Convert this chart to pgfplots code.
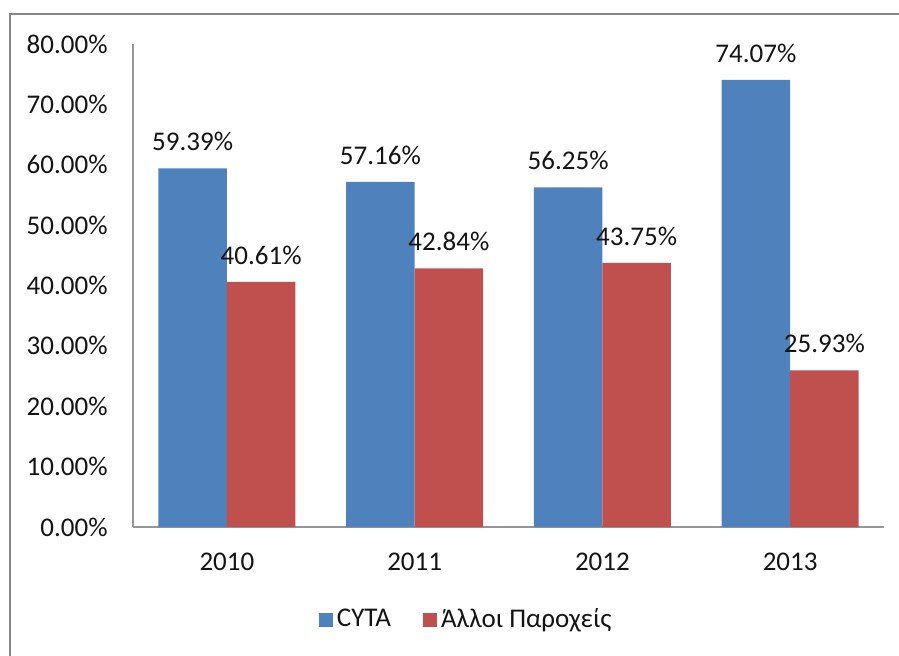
\documentclass[border=0pt]{standalone}
\usepackage{pgfplots}
\pgfplotsset{compat=1.18}
\usepackage{fontspec}
\setmainfont{Carlito}
\definecolor{cytablue}{RGB}{79,129,189}
\definecolor{otherred}{RGB}{192,80,77}
\definecolor{framegray}{RGB}{134,134,134}
\definecolor{axisgray}{RGB}{150,150,150}
\definecolor{txt}{RGB}{20,20,20}
\begin{document}
\fontsize{13.5pt}{16pt}\selectfont
\begin{tikzpicture}
\begin{axis}[
  scale only axis,
  width=375.5pt, height=241.5pt,
  at={(0,0)}, anchor=south west,
  ybar, bar width=34.25pt,
  ymin=0, ymax=80,
  xmin=-0.5, xmax=3.5,
  xtick={0,1,2,3},
  xticklabels={2010,2011,2012,2013},
  ytick={0,10,20,30,40,50,60,70,80},
  axis x line*=bottom, axis y line*=left,
  axis line style={draw=axisgray, line width=0.6pt, -},
  major tick length=0pt,
  /pgf/number format/assume math mode=true,
  yticklabel={\pgfmathprintnumber[fixed,fixed zerofill,precision=2,assume math mode=true]{\tick}\%},
  yticklabel style={xshift=-8pt, text=txt},
  xticklabel style={yshift=-8.5pt, text=txt},
  nodes near coords={\pgfmathprintnumber[fixed,fixed zerofill,precision=2,assume math mode=true]{\pgfplotspointmeta}\%},
  nodes near coords style={yshift=4pt, text=txt},
  legend style={at={(0.445,-0.193)}, anchor=center, draw=none, legend columns=2,
    /tikz/every even column/.append style={column sep=14pt}, text=txt},
  legend image code/.code={\fill[#1] (0pt,-3.5pt) rectangle (7pt,3.5pt);},
]
\addplot[fill=cytablue, draw=none, bar shift=-17.125pt] coordinates {(0,59.39) (1,57.16) (2,56.25) (3,74.07)};
\addplot[fill=otherred, draw=none, bar shift=17.125pt] coordinates {(0,40.61) (1,42.84) (2,43.75) (3,25.93)};
\legend{CYTA, Άλλοι Παροχείς}
\end{axis}
\draw[framegray, line width=1pt] (-61.35pt,-69pt) rectangle (390pt,256.35pt);
\pgfresetboundingbox
\useasboundingbox (-66.5pt,-64pt) rectangle (383pt,263.5pt);
\end{tikzpicture}
\end{document}
